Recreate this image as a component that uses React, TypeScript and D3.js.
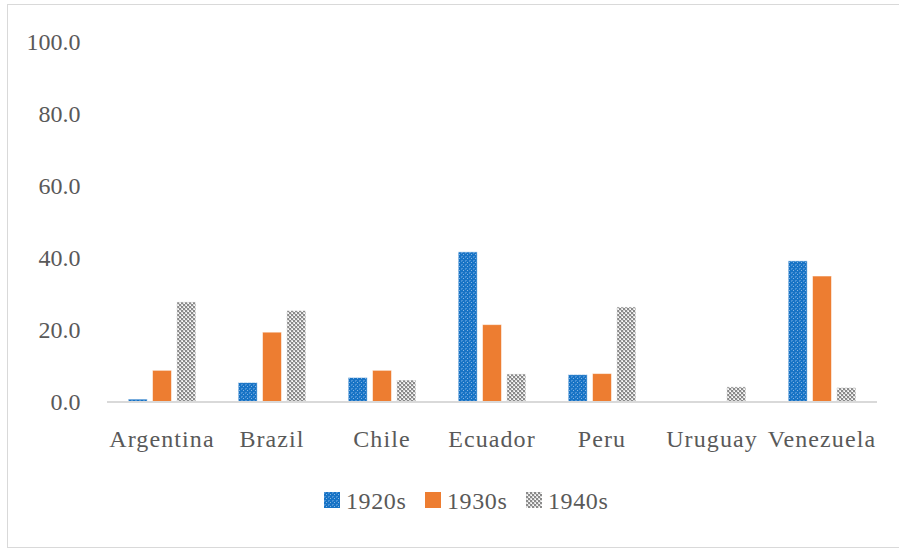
import React from "react";
import * as d3 from "d3";

const countries = ["Argentina", "Brazil", "Chile", "Ecuador", "Peru", "Uruguay", "Venezuela"];
const decades = ["1920s", "1930s", "1940s"];
const values1920s = [0.8, 5.4, 6.8, 41.7, 7.6, 0, 39.2];
const values1930s = [8.8, 19.4, 8.8, 21.5, 7.9, 0, 35.0];
const values1940s = [27.8, 25.4, 6.1, 7.8, 26.4, 4.2, 4.0];
const yTicks = [0, 20, 40, 60, 80, 100];

const seriesValues = [values1920s, values1930s, values1940s];
const fills = ["url(#dotGrid)", "#ED7D31", "url(#grayCheck)"];

const W = 899;
const H = 549;
const FONT = "Liberation Serif, Times New Roman, serif";
const TEXT = "#595959";

export default function App() {
  const x = d3.scaleBand<string>().domain(countries).range([107, 877]).paddingInner(0).paddingOuter(0);
  const xs = d3
    .scaleBand<string>()
    .domain(decades)
    .range([0, x.bandwidth()])
    .paddingInner(0.218)
    .paddingOuter(0.872);
  const y = d3.scaleLinear().domain([0, 100]).range([402, 42]);

  return (
    <svg
      width={W}
      height={H}
      style={{ position: "absolute", left: 0, top: 0, background: "#fff", fontFamily: FONT }}
    >
      <defs>
        <pattern id="dotGrid" width={4} height={4} patternUnits="userSpaceOnUse">
          <rect width={4} height={4} fill="#1773C5" />
          <rect x={0} y={0} width={2} height={1} fill="#4A92D6" />
          <rect x={0} y={0} width={1} height={2} fill="#4A92D6" />
          <rect x={2} y={2} width={1} height={1} fill="#86B6E3" />
        </pattern>
        <pattern id="grayCheck" width={4} height={4} patternUnits="userSpaceOnUse">
          <rect width={4} height={4} fill="#DADADA" />
          <rect x={0} y={0} width={2} height={2} fill="#8A8A8A" />
          <rect x={2} y={2} width={2} height={2} fill="#8A8A8A" />
          <rect x={1} y={3} width={1} height={1} fill="#FFFFFF" />
          <rect x={3} y={1} width={1} height={1} fill="#FFFFFF" />
        </pattern>
      </defs>

      <rect x={7.5} y={4.5} width={900} height={543} fill="#fff" stroke="#D9D9D9" strokeWidth={1} />

      {yTicks.map((t) => (
        <text
          key={t}
          x={80.5}
          y={y(t)}
          dy="0.35em"
          textAnchor="end"
          fontSize={24}
          fill={TEXT}
        >
          {t.toFixed(1)}
        </text>
      ))}

      {countries.map((c, ci) => (
        <g key={c} transform={`translate(${x(c)},0)`}>
          {decades.map((d, di) => {
            const v = seriesValues[di][ci];
            if (!v) return null;
            return (
              <rect
                key={d}
                x={xs(d)}
                y={y(v)}
                width={xs.bandwidth()}
                height={y(0) - y(v)}
                fill={fills[di]}
                stroke="#ffffff"
                strokeOpacity={0.55}
                strokeWidth={1}
              />
            );
          })}
        </g>
      ))}

      <line x1={107} x2={877} y1={402} y2={402} stroke="#D9D9D9" strokeWidth={2} />

      {countries.map((c) => (
        <text
          key={c}
          x={(x(c) as number) + x.bandwidth() / 2}
          y={447}
          textAnchor="middle"
          fontSize={24}
          letterSpacing={1.1}
          fill={TEXT}
        >
          {c}
        </text>
      ))}

      {decades.map((d, i) => (
        <g key={d} transform={`translate(${324 + i * 101},492)`}>
          <rect width={16} height={16} fill={fills[i]} />
          <text x={22} y={17} fontSize={24} letterSpacing={0.6} fill={TEXT}>
            {d}
          </text>
        </g>
      ))}
    </svg>
  );
}
